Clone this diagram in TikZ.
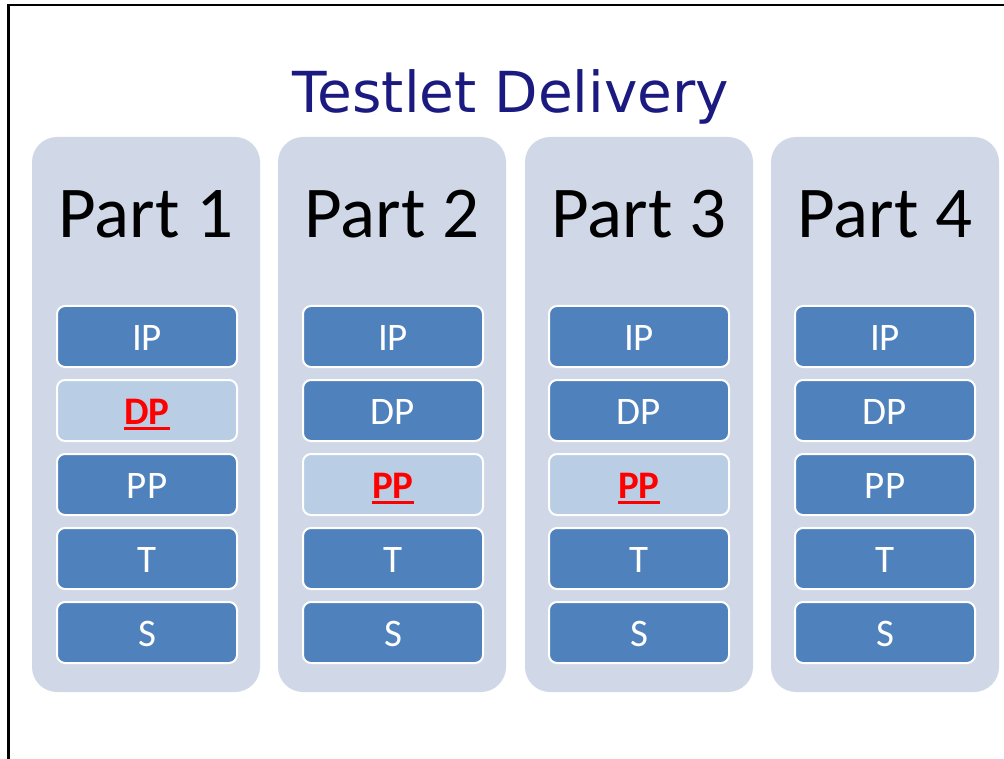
\documentclass[tikz,border=0pt]{standalone}
\usepackage{fontspec}
\usepackage{xcolor}
\usepackage{tikz}
\setmainfont{Carlito}
\newfontfamily\titlefont{DejaVu Sans}
\newcommand{\markword}[1]{\setbox0\hbox{#1}\rlap{\rule[-6pt]{\wd0}{3pt}}\box0}

\definecolor{partbg}{HTML}{D0D8E8}
\definecolor{itemblue}{HTML}{4F81BD}
\definecolor{itemlight}{HTML}{B9CDE5}
\definecolor{titlenavy}{HTML}{1A1A80}

\begin{document}
\begin{tikzpicture}[x=1pt, y=-1pt,
    part/.style={fill=partbg, rounded corners=25pt, minimum width=228pt, minimum height=555pt, inner sep=0pt},
    partlabel/.style={anchor=base, font=\fontsize{73}{75}\selectfont},
    item/.style={draw=white, line width=2pt, fill=itemblue, rounded corners=8pt, minimum width=180pt, minimum height=61pt,
                 inner sep=0pt, text height=27pt, text depth=0pt, text=white, font=\fontsize{39}{41}\selectfont},
    pick/.style={item, fill=itemlight, text=red, font=\fontsize{39}{41}\selectfont\bfseries}
]
    \useasboundingbox (0,0) rectangle (1004,759);
    \draw[line width=2.5pt] (8.5,759) -- (8.5,5) -- (1004,5);

    \node[anchor=base, text=titlenavy, font=\titlefont\fontsize{56.5}{60}\selectfont] (title) at (511,113) {Testlet Delivery};

    \node[part] (p1) at (146,414.5) {};
    \node[part] (p2) at (392,414.5) {};
    \node[part] (p3) at (639,414.5) {};
    \node[part] (p4) at (885,414.5) {};

    \node[partlabel] (lab1) at (146,238) {Part 1};
    \node[partlabel] (lab2) at (392,238) {Part 2};
    \node[partlabel] (lab3) at (639,238) {Part 3};
    \node[partlabel] (lab4) at (885,238) {Part 4};

    % Part 1
    \node[item] (ip1) at (147,336.5) {IP};
    \node[pick] (dp1) at (147,410.5) {\markword{DP}};
    \node[item] (pp1) at (147,484.5) {PP};
    \node[item] (t1)  at (147,558.5) {T};
    \node[item] (s1)  at (147,632.5) {S};

    % Part 2
    \node[item] (ip2) at (393,336.5) {IP};
    \node[item] (dp2) at (393,410.5) {DP};
    \node[pick] (pp2) at (393,484.5) {\markword{PP}};
    \node[item] (t2)  at (393,558.5) {T};
    \node[item] (s2)  at (393,632.5) {S};

    % Part 3
    \node[item] (ip3) at (639,336.5) {IP};
    \node[item] (dp3) at (639,410.5) {DP};
    \node[pick] (pp3) at (639,484.5) {\markword{PP}};
    \node[item] (t3)  at (639,558.5) {T};
    \node[item] (s3)  at (639,632.5) {S};

    % Part 4
    \node[item] (ip4) at (885,336.5) {IP};
    \node[item] (dp4) at (885,410.5) {DP};
    \node[item] (pp4) at (885,484.5) {PP};
    \node[item] (t4)  at (885,558.5) {T};
    \node[item] (s4)  at (885,632.5) {S};
\end{tikzpicture}
\end{document}
